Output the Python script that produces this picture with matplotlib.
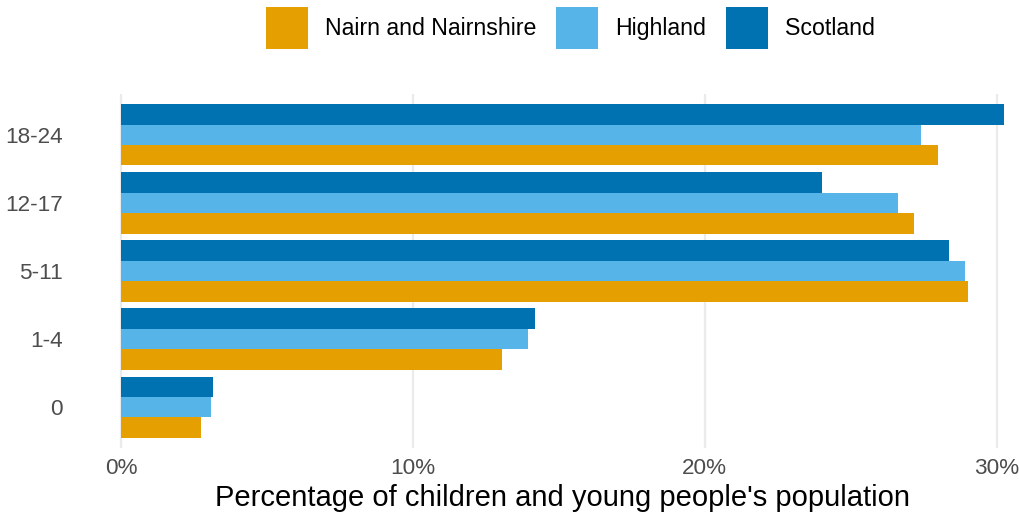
import numpy as np
import matplotlib
matplotlib.use('Agg')
import matplotlib.pyplot as plt
from matplotlib.ticker import FuncFormatter

plt.rcParams['font.family'] = ['Liberation Sans', 'DejaVu Sans']

age_groups = ['0', '1-4', '5-11', '12-17', '18-24']
nairn = [2.75, 13.05, 29.03, 27.15, 27.99]
highland = [3.08, 13.94, 28.91, 26.62, 27.39]
scotland = [3.17, 14.18, 28.35, 24.02, 30.24]

series_names = ['Nairn and Nairnshire', 'Highland', 'Scotland']
colours = ['#E69F00', '#56B4E9', '#0072B2']


def main():
    fig = plt.figure(figsize=(10.2, 5.16), dpi=100)
    ax = fig.add_axes([76.8 / 1020, 68 / 516, 971 / 1020, 354 / 516])

    ys = np.arange(len(age_groups))
    width = 0.3
    offsets = [-width, 0, width]
    for vals, off, col, name in zip([nairn, highland, scotland], offsets, colours, series_names):
        ax.barh(ys + off, vals, height=width, color=col, label=name, zorder=2)

    ax.set_xlim(-1.512, 31.75)
    ax.set_ylim(-0.6, len(age_groups) - 0.4)
    ax.set_xticks([0, 10, 20, 30])
    ax.xaxis.set_major_formatter(FuncFormatter(lambda v, p: f'{v:.0f}%'))
    ax.set_yticks(ys)
    ax.set_yticklabels(age_groups)

    ax.grid(axis='x', color='#EBEBEB', linewidth=1.6, zorder=0)
    ax.set_axisbelow(True)
    for s in ax.spines.values():
        s.set_visible(False)
    ax.tick_params(axis='both', length=0, labelsize=16.2, labelcolor='#4D4D4D')
    ax.tick_params(axis='y', pad=10)
    ax.tick_params(axis='x', pad=7)

    ax.set_xlabel("Percentage of children and young people's population", fontsize=21,
                  color='black', labelpad=4)

    handles, labels = ax.get_legend_handles_labels()
    fig.legend(handles, labels, loc='center', bbox_to_anchor=(570 / 1020, 1 - 28 / 516),
               ncol=3, frameon=False, fontsize=16.7, handlelength=1.82, handleheight=2.35,
               handletextpad=0.72, columnspacing=0.86)

    fig.savefig('out.png', dpi=100)


main()
